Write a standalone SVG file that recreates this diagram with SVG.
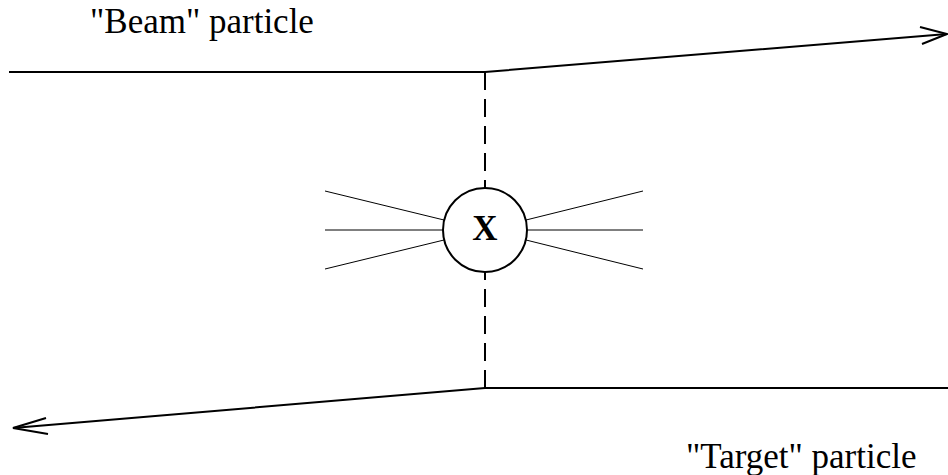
<svg xmlns="http://www.w3.org/2000/svg" width="948" height="475" viewBox="0 0 948 475">
<style>
.thick{stroke:#000;stroke-width:2;fill:none}
.thin{stroke:#000;stroke-width:1;fill:none}
.dash{stroke:#000;stroke-width:2;fill:none;stroke-dasharray:18 9}
.lbl{font-family:"Liberation Serif","Times New Roman",serif;font-size:35px;fill:#000}
</style>
<g id="connectors">
<polyline class="thick" points="9,72 485,72 947,34"/>
<polyline class="thick" points="920,27 947,34 922,44"/>
<polyline class="thick" points="948,388 485,388 13,428"/>
<polyline class="thick" points="46,418 13,428 48,434"/>
<line class="dash" x1="485" y1="72" x2="485" y2="188"/>
<line class="dash" x1="485" y1="388" x2="485" y2="272" />
<line class="thin" x1="325" y1="191" x2="444" y2="220"/>
<line class="thin" x1="325" y1="230" x2="443" y2="230"/>
<line class="thin" x1="325" y1="269" x2="444" y2="240"/>
<line class="thin" x1="526" y1="220" x2="643" y2="191"/>
<line class="thin" x1="527" y1="230" x2="643" y2="230"/>
<line class="thin" x1="526" y1="240" x2="643" y2="269"/>
</g>
<g id="vertex">
<circle class="thick" cx="485" cy="230" r="42" fill="#fff"/>
<text x="485" y="240" text-anchor="middle" style="font-family:'Liberation Serif','Times New Roman',serif;font-size:35px;font-weight:bold">X</text>
</g>
<g id="beam-label"><text class="lbl" x="90" y="33">"Beam" particle</text></g>
<g id="target-label"><text class="lbl" x="686" y="468">"Target" particle</text></g>
</svg>
